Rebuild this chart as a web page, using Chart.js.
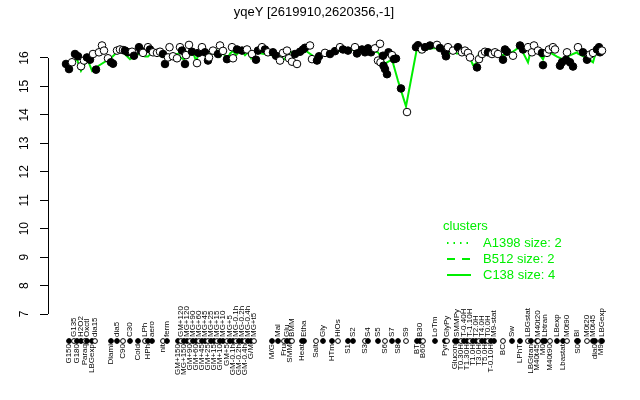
<!DOCTYPE html>
<html>
<head>
<meta charset="utf-8">
<script src="https://cdn.jsdelivr.net/npm/chart.js@4.4.1/dist/chart.umd.min.js"></script>
<style>
html,body{margin:0;padding:0;background:#fff;}
canvas{display:block;}
</style>
</head>
<body>
<canvas id="c" width="640" height="400"></canvas>
<script>
// ---------------- data ----------------
const titleText = 'yqeY [2619910,2620356,-1]';
const yTicks = [7, 8, 9, 10, 11, 12, 13, 14, 15, 16];

// probe measurements: position along the condition axis, value, probe set (1 = filled, 0 = open)
const probePos = [0,1.5,3,4.5,6,7.5,9,10.5,12,13.5,
  15,16.5,18,19,21,22.5,23.5,25.5,27,28.5,
  29.5,31,33,34,36.5,37.5,38.5,41,42,43.5,
  45.5,47,48.5,49.5,51,51.75,53.5,55.5,57,58,
  59.5,60,61.5,63,65.5,66.25,68,69.5,71,71.5,
  73.5,76,77,78.5,80.5,83,83.5,85.5,88,90.5,
  93,95,96,98,99.5,101,103.5,105,107,108.5,
  110.5,111.5,113,114.5,115.5,117,118.5,119.5,122,123,
  125.5,126.5,129.5,132,134.5,137,138.5,141,144.5,145.5,
  148,149.5,151,152.5,154.5,156,157,157.25,158.5,158.75,
  159.5,160.5,161.25,163,164,165,167.5,170.5,175,176,
  178,179.5,182,185.5,187,189.5,190,191,193.5,196,
  198,199.5,201,202,205.5,206.5,208,209.5,211,213,
  214.5,216,218.5,219.5,220.5,223.5,227,228.5,231,233,
  234,236,238,238.5,240.5,241.5,243.5,244.5,247,248,
  250,250.5,252,253.5,256,258.5,260.5,262,263.5,265.5,
  266.5,267,268];
const probeVal = [15.79,15.61,15.85,16.14,16.06,15.71,15.91,16.02,15.94,16.14,
  15.59,16.2,16.44,16.26,15.99,15.85,15.8,16.26,16.3,16.28,
  16.26,16.2,16.22,16.08,16.38,16.25,16.18,16.38,16.3,16.2,
  16.18,16.22,16.14,15.79,16.02,16.38,16.06,15.99,16.38,16.26,
  15.79,16.1,16.46,16.22,15.82,16.18,16.38,16.2,15.91,16.02,
  16.26,16.14,16.44,16.25,15.96,16.38,15.99,16.3,16.26,16.3,
  16.14,15.94,16.26,16.38,16.3,16.2,16.2,16.08,15.91,16.18,
  16.26,15.99,15.87,16.14,15.79,16.22,16.3,16.36,16.44,15.96,
  15.91,16.06,16.18,16.14,16.24,16.38,16.3,16.26,16.38,16.16,
  16.3,16.2,16.34,16.2,16.34,15.91,16.5,15.85,16.08,15.73,
  15.61,15.43,16.2,16.1,15.96,15.98,14.93,14.1,16.38,16.45,
  16.3,16.38,16.44,16.46,16.35,16.2,16.06,16.38,16.26,16.38,
  16.2,16.26,16.18,16.02,15.67,15.96,16.14,16.22,16.2,16.14,
  16.2,16.14,15.94,16.3,16.22,16.08,16.44,16.3,16.38,16.2,
  16.44,16.26,16.18,15.75,16.18,16.3,16.38,16.3,15.73,15.85,
  15.94,16.2,15.85,15.7,16.38,16.2,15.94,16.12,16.18,16.3,
  16.38,16.2,16.26];
const probeSet = [1,1,0,1,1,0,0,1,1,0,
  1,0,0,0,0,1,1,0,0,0,
  1,1,0,1,1,1,0,0,1,0,
  0,0,1,1,0,0,0,0,0,1,
  1,0,0,1,0,1,0,1,1,0,
  0,1,0,0,1,0,0,1,1,0,
  0,1,1,0,1,0,1,1,0,0,
  0,0,0,1,0,1,1,1,0,0,
  1,1,0,1,1,0,1,1,0,1,
  1,1,1,1,0,0,0,0,1,1,
  1,1,1,0,1,1,1,0,1,1,
  0,1,1,0,1,1,1,0,0,1,
  0,0,0,0,1,0,0,0,1,0,
  0,0,1,1,1,0,1,1,0,0,
  0,0,1,1,0,0,0,0,1,1,
  1,0,1,1,0,1,1,0,0,1,
  1,1,0];

// conditions: label, position, label level (0 below axis, 1 above), cluster C138 value
const condLabels = ['G150','G135','G180','H2O2','Paraq','Oxctl','LBGexp','dia15','Diami','dia5',
  'C90','C30','Cold','LPh','HPh','aero','nit','ferm','GM+150','GM+120',
  'MG+150','MG+120','GM+90','MG+90','GM+60','MG+60','GM+45','MG+45','GM+25','MG+25',
  'GM+15','MG+15','GM+10','MG+10','GM+5','MG+5','GM-0.1h','MG-0.1h','GM-0.2h','MG-0.2h',
  'GM-0.4h','MG-0.4h','G/M','MG+t5','M/G','Mal','Fru','Glu','SMM','BMM',
  'Heat','Etha','Salt','Gly','HTm','HiOs','S1','S2','S3','S4',
  'S5','S6','S7','S8','S9','BT','B30','B60','LoTm','Pyr',
  'GlyPy','Glucon','SMMPy','T0.30H','T-0.40H','T1.30H','T-1.10H','T1.0H','T2.0H','T3.0H',
  'T4.0H','T5.0H','T0.0H','T-0.10H','M9-stat','BC','Sw','LPhT','LBGstat','LBGtran',
  'M40t45','M40t20','M0','Lbtran','M40t90','LBexp','Lbastat','M0t90','Bl','S0',
  'M0t20','M0t45','dia0','M9','LBGexp'];
const condPos = [1.5,4,5.5,7.5,9.5,10.5,13,14.5,22.5,25.5,
  28.5,32,36,39.5,41,43,48.5,50.5,56,57.5,
  59,60.5,62,63.5,65,66.5,68,69.5,71,72.5,
  74,75.5,77,78.5,80.5,82,83.5,85,86.5,88,
  89.5,91,92.5,94,103,106,109,110.5,112,113,
  118,119,125,128.5,133,136,141,143.5,149.5,151,
  156,159.5,163,166,170,175.5,177,178.5,184.5,189.5,
  190.5,194.5,195.5,197.5,199,200.5,202,203.5,205,206.5,
  208,209.5,211,212.5,214,218.5,223,227,231,232.5,
  235.5,236,238.5,239.5,242,245.5,248.5,250.5,255.5,256,
  260.5,263.5,264.5,267.5,268];
const condLevel = [0,1,0,1,0,1,0,1,0,1,
  0,1,0,1,0,1,0,1,0,1,
  0,1,0,1,0,1,0,1,0,1,
  0,1,0,1,0,1,0,1,0,1,
  0,1,0,1,0,1,0,1,0,1,
  0,1,0,1,0,1,0,1,0,1,
  1,0,1,0,1,0,1,0,1,0,
  1,0,1,0,1,0,1,0,1,0,
  1,0,1,0,1,0,1,0,1,0,
  0,1,0,1,0,1,0,1,1,0,
  1,1,0,0,1];
const clusterC138 = [15.7,15.9,15.95,15.55,15.8,16.0,15.55,15.65,16.0,16.2,
  16.2,15.96,16.15,16.05,16.05,16.2,16.05,16.1,16.15,16.0,
  15.95,16.2,16.1,16.2,15.9,16.15,16.25,16.1,16.0,16.2,
  16.15,16.25,16.05,16.2,15.95,16.15,16.25,16.1,16.2,16.25,
  16.1,16.2,16.0,16.2,16.1,16.15,15.95,16.05,16.2,16.2,
  16.25,16.3,16.0,16.15,16.25,16.25,16.25,16.3,16.2,16.25,
  16.2,15.8,15.95,15.2,14.3,16.35,16.2,16.3,16.35,16.25,
  16.15,16.2,16.15,16.2,16.15,16.1,16.0,15.75,15.8,16.15,
  16.2,16.1,16.2,16.15,16.2,16.1,16.2,16.4,15.85,16.3,
  16.2,16.2,15.95,16.15,16.2,16.05,15.95,16.05,16.2,16.15,
  16.0,15.85,16.1,16.2,16.25];

const clusterNames = ['A1398', 'B512', 'C138'];
const clusterSizes = [2, 2, 4];
const axisStripValue = 6.05;

// ---------------- drawing ----------------
const GREEN = '#00ee00';
const FONT = '"Liberation Sans", Arial, Helvetica, sans-serif';

const probeData = probePos.map((p, i) => ({x: p, y: probeVal[i]}));
const lineData = condPos.map((p, i) => ({x: p, y: clusterC138[i]}));
const stripData = condPos.map(p => ({x: p, y: axisStripValue}));

const extras = {
  id: 'extras',
  beforeDatasetsDraw(chart) {
    // y axis line, spanning only the tick range (as in R)
    const {ctx} = chart;
    const ys = chart.scales.y;
    const x0 = chart.chartArea.left + 0.5;
    ctx.save();
    ctx.strokeStyle = '#000';
    ctx.lineWidth = 1;
    ctx.beginPath();
    ctx.moveTo(x0, ys.getPixelForValue(yTicks[0]));
    ctx.lineTo(x0, ys.getPixelForValue(yTicks[yTicks.length - 1]));
    ctx.stroke();
    ctx.restore();
  },
  afterDraw(chart) {
    const {ctx} = chart;
    const xs = chart.scales.x, ys = chart.scales.y;
    const stripPx = ys.getPixelForValue(axisStripValue);
    ctx.save();
    ctx.fillStyle = '#000';
    ctx.font = '8px ' + FONT;
    ctx.textBaseline = 'middle';
    condLabels.forEach((lab, i) => {
      const px = xs.getPixelForValue(condPos[i]);
      ctx.save();
      if (condLevel[i]) {
        ctx.translate(px, stripPx - 4);
        ctx.rotate(-Math.PI / 2);
        ctx.textAlign = 'left';
      } else {
        ctx.translate(px, stripPx + 3);
        ctx.rotate(-Math.PI / 2);
        ctx.textAlign = 'right';
      }
      ctx.fillText(lab, 0, 0);
      ctx.restore();
    });
    // cluster legend
    const lx = 443, ly = 226;
    ctx.fillStyle = GREEN;
    ctx.strokeStyle = GREEN;
    ctx.font = '13px ' + FONT;
    ctx.textAlign = 'left';
    ctx.textBaseline = 'middle';
    ctx.fillText('clusters', lx, ly);
    const dashes = [[1.5, 5], [8, 7], []];
    clusterNames.forEach((n, i) => {
      const yy = ly + 17 + i * 16;
      ctx.setLineDash(dashes[i]);
      ctx.lineWidth = 2;
      ctx.beginPath();
      ctx.moveTo(lx + 4, yy);
      ctx.lineTo(lx + 28, yy);
      ctx.stroke();
      ctx.setLineDash([]);
      ctx.fillText(n + ' size: ' + clusterSizes[i], lx + 40, yy);
    });
    ctx.restore();
  }
};

new Chart(document.getElementById('c'), {
  type: 'scatter',
  data: {
    datasets: [
      {
        label: 'probes',
        data: probeData,
        showLine: false,
        pointRadius: 3.8,
        pointBorderWidth: 1,
        pointBorderColor: '#000',
        pointBackgroundColor: probeSet.map(s => s ? '#000' : '#fff'),
        order: 0,
        clip: false
      },
      {
        label: 'C138',
        data: lineData,
        showLine: true,
        borderColor: GREEN,
        borderWidth: 2,
        pointRadius: 0,
        order: 1,
        clip: false
      },
      {
        label: 'conditions',
        data: stripData,
        showLine: false,
        pointRadius: 2.4,
        pointBorderWidth: 1,
        pointBorderColor: '#000',
        pointBackgroundColor: condPos.map((p, i) => i % 3 === 1 ? '#fff' : '#000'),
        order: 0,
        clip: false
      }
    ]
  },
  options: {
    responsive: false,
    animation: false,
    events: [],
    layout: {padding: {left: 0, right: 12, top: 0, bottom: 54.71}},
    plugins: {
      legend: {display: false},
      tooltip: {enabled: false},
      title: {
        display: true,
        text: titleText,
        color: '#000',
        font: {family: FONT, size: 13, weight: 'normal'},
        padding: {top: 5, bottom: 20.33}
      }
    },
    scales: {
      x: {type: 'linear', min: -9, max: 281, display: false},
      y: {
        type: 'linear',
        min: 5.9,
        max: 16.6,
        afterFit(s) { s.width = 48; },
        afterBuildTicks(s) { s.ticks = yTicks.map(v => ({value: v})); },
        ticks: {
          minRotation: 90,
          maxRotation: 90,
          crossAlign: 'center',
          padding: 9,
          color: '#000',
          font: {family: FONT, size: 12}
        },
        grid: {drawOnChartArea: false, tickLength: 8, color: '#000', tickColor: '#000'},
        border: {display: false}
      }
    }
  },
  plugins: [extras]
});
</script>
</body>
</html>
